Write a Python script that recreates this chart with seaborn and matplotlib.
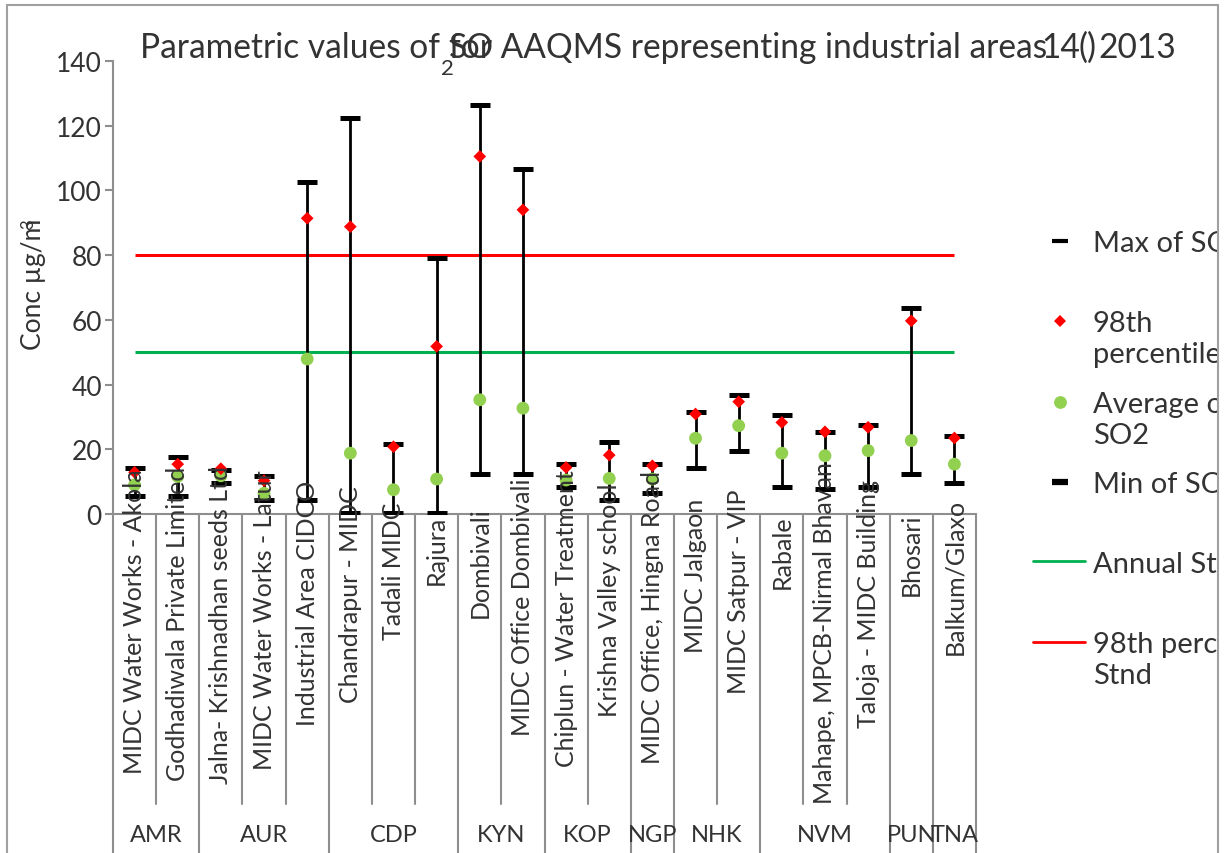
import matplotlib
matplotlib.use("Agg")
import numpy as np
import pandas as pd
import matplotlib.pyplot as plt
import seaborn as sns
from matplotlib.lines import Line2D
from matplotlib.transforms import Bbox, blended_transform_factory

# ---------------- data ----------------
stations = [
    "MIDC Water Works - Akola",
    "Godhadiwala Private Limited",
    "Jalna- Krishnadhan seeds Ltd",
    "MIDC Water Works - Latur",
    "Industrial Area CIDCO",
    "Chandrapur - MIDC",
    "Tadali MIDC",
    "Rajura",
    "Dombivali",
    "MIDC Office Dombivali",
    "Chiplun - Water Treatment",
    "Krishna Valley school",
    "MIDC Office, Hingna Road",
    "MIDC Jalgaon",
    "MIDC Satpur - VIP",
    "Rabale",
    "Mahape, MPCB-Nirmal Bhavan",
    "Taloja - MIDC Building",
    "Bhosari",
    "Balkum/Glaxo",
]
regions = ["AMR", "AMR", "AUR", "AUR", "AUR", "CDP", "CDP", "CDP", "KYN", "KYN",
           "KOP", "KOP", "NGP", "NHK", "NHK", "NVM", "NVM", "NVM", "PUN", "TNA"]
so2_max = [14.1, 17.5, 13.6, 11.6, 102.5, 122.3, 21.5, 79.0, 126.4, 106.5,
           15.4, 22.2, 15.4, 31.4, 36.8, 30.6, 25.2, 27.5, 63.6, 24.0]
so2_p98 = [12.9, 15.4, 14.0, 10.3, 91.4, 88.8, 20.8, 51.8, 110.5, 94.0,
           14.4, 18.2, 14.9, 30.9, 34.7, 28.3, 25.4, 26.8, 59.7, 23.5]
so2_avg = [9.0, 11.6, 11.8, 6.4, 47.9, 18.8, 7.5, 10.8, 35.3, 32.7,
           10.5, 11.0, 10.8, 23.4, 27.3, 18.8, 18.0, 19.6, 22.7, 15.4]
so2_min = [5.5, 5.5, 9.5, 4.3, 4.3, 0.2, 0.2, 0.2, 12.3, 12.3,
           8.4, 4.3, 6.5, 14.2, 19.4, 8.2, 7.7, 8.2, 12.3, 9.5]
annual_std = 50
p98_std = 80
y_ticks = [0, 20, 40, 60, 80, 100, 120, 140]
legend_rows = [
    ["Max of SO2"],
    ["98th", "percentile of SO2"],
    ["Average of", "SO2"],
    ["Min of SO2"],
    ["Annual Stnd"],
    ["98th percentile", "Stnd"],
]

# ---------------- style ----------------
W, H = 1227, 854
TXT = "#333333"
GRID = "#8e8e8e"
RED = "#FF0000"
GREEN_PT = "#92D050"
GREEN_LN = "#00B050"

sns.set_theme(style="white")
plt.rcParams["font.family"] = ["Lato", "DejaVu Sans"]
plt.rcParams["font.weight"] = "normal"
plt.rcParams["text.color"] = TXT


def fx(px):
    return px / W


def fy(py):
    return 1 - py / H


fig = plt.figure(figsize=(W / 100, H / 100), dpi=100)
ax = fig.add_axes([fx(113), fy(515), (976 - 113) / W, (515 - 62) / H])

n = len(stations)
df = pd.DataFrame({
    "station": stations,
    "region": regions,
    "pos": np.arange(n),
    "max": so2_max,
    "p98": so2_p98,
    "avg": so2_avg,
    "min": so2_min,
})

# standards
ax.hlines(annual_std, 0, n - 1, color=GREEN_LN, lw=2.2, zorder=1)
ax.hlines(p98_std, 0, n - 1, color=RED, lw=2.2, zorder=1)

# min-max ranges with caps
ax.vlines(df["pos"], df["min"], df["max"], color="black", lw=2.0, zorder=2)
ax.scatter(df["pos"], df["max"], marker="_", s=14.5 ** 2, linewidths=3.6,
           color="black", zorder=3)
ax.scatter(df["pos"], df["min"], marker="_", s=14.5 ** 2, linewidths=3.6,
           color="black", zorder=3)

# average and 98th percentile points
sns.scatterplot(data=df, x="pos", y="avg", color=GREEN_PT, s=85,
                edgecolor="none", ax=ax, zorder=4, legend=False)
sns.scatterplot(data=df, x="pos", y="p98", marker="D", color=RED, s=42,
                edgecolor="none", ax=ax, zorder=5, legend=False)

ax.set_xlim(-0.5, n - 0.5)
ax.set_ylim(0, 140)
ax.set_xlabel("")
ax.set_ylabel("")
ax.set_xticks([])
ax.set_yticks(y_ticks)
ax.tick_params(axis="y", direction="out", length=6, width=1.5, color=GRID,
               labelsize=19, pad=2, labelcolor=TXT, left=True)
for side in ["top", "right"]:
    ax.spines[side].set_visible(False)
for side in ["left", "bottom"]:
    ax.spines[side].set_color(GRID)
    ax.spines[side].set_linewidth(1.5)
ax.patch.set_alpha(0)

trans = blended_transform_factory(ax.transData, fig.transFigure)

# category separators below the axis
for k in range(n + 1):
    is_group = k == 0 or k == n or regions[k] != regions[k - 1]
    y_end = 854 if is_group else 805
    fig.add_artist(Line2D([k - 0.5, k - 0.5], [fy(515), fy(y_end)],
                          transform=trans, color=GRID, lw=1.5, zorder=0))

# region labels
start = 0
for k in range(1, n + 1):
    if k == n or regions[k] != regions[k - 1]:
        fig.text((start + k - 1) / 2, fy(836), regions[start], transform=trans,
                 ha="center", va="center", fontsize=17, color=TXT)
        start = k

# station labels, rotated
cat_labels = []
for i, s in enumerate(stations):
    t = fig.text(i, fy(530), s, transform=trans, rotation=90, ha="center",
                 va="top", fontsize=18, color=TXT, zorder=6)
    cat_labels.append(t)

# title pieces
title_fs = 21
t_a = fig.text(fx(140), fy(58), "Parametric values of", fontsize=title_fs,
               va="baseline", ha="left")
t_mid = fig.text(fx(449), fy(58), "for AAQMS representing industrial areas",
                 fontsize=title_fs, va="baseline", ha="left")
t_so = fig.text(fx(449), fy(58), "SO", fontsize=title_fs, va="baseline", ha="left")
t_sub = fig.text(fx(441), fy(75), "2", fontsize=title_fs * 0.66, va="baseline", ha="left")
t_14 = fig.text(fx(1041), fy(58), "14", fontsize=title_fs, va="baseline", ha="left")
t_par = fig.text(fx(1078), fy(58), "()", fontsize=title_fs, va="baseline", ha="left")
t_yr = fig.text(fx(1098), fy(58), "2013", fontsize=title_fs, va="baseline", ha="left")

# y label
fig.text(fx(33), fy(284), "Conc µg/m", rotation=90, ha="center", va="center",
         fontsize=19, color=TXT)
fig.text(fx(28), fy(224), "3", rotation=90, ha="center", va="center",
         fontsize=12, color=TXT)

# legend
clip = Bbox.from_extents(0, 0, 1217, H)
mx = fx(1060)
fig.add_artist(Line2D([mx], [fy(242)], transform=fig.transFigure, marker="_",
                      ms=11, mew=3, color="black"))
fig.add_artist(Line2D([mx], [fy(322)], transform=fig.transFigure, marker="D",
                      ms=6.5, mew=0, color=RED))
fig.add_artist(Line2D([mx], [fy(403)], transform=fig.transFigure, marker="o",
                      ms=9.2, mew=0, color=GREEN_PT))
fig.add_artist(Line2D([mx], [fy(483)], transform=fig.transFigure, marker="_",
                      ms=11, mew=4.5, color="black"))
fig.add_artist(Line2D([fx(1033), fx(1085)], [fy(562), fy(562)],
                      transform=fig.transFigure, lw=2, color=GREEN_LN))
fig.add_artist(Line2D([fx(1033), fx(1085)], [fy(643), fy(643)],
                      transform=fig.transFigure, lw=2, color=RED))
row_y = [242, 322, 403, 483, 563, 643]
for y0, lines in zip(row_y, legend_rows):
    for j, line in enumerate(lines):
        t = fig.text(fx(1093), fy(y0 + 10 + 31 * j), line, fontsize=21,
                     va="baseline", ha="left", color=TXT)
        t.set_clip_box(clip)
        t.set_clip_on(True)

# outer frame
frame_kw = dict(transform=fig.transFigure, color="#a0a0a0", lw=1.5)
fig.add_artist(Line2D([fx(7), fx(7)], [fy(6), 0], **frame_kw))
fig.add_artist(Line2D([fx(7), fx(1218)], [fy(6), fy(6)], **frame_kw))
fig.add_artist(Line2D([fx(1218), fx(1218)], [fy(6), 0], **frame_kw))

# layout pass: fit the title width and place station labels
fig.canvas.draw()
r = fig.canvas.get_renderer()
w_mid = t_mid.get_window_extent(r).width
scale = (1047 - 449) / w_mid
title_fs *= scale
for t in [t_a, t_mid, t_so, t_14, t_par, t_yr]:
    t.set_fontsize(title_fs)
t_sub.set_fontsize(title_fs * 0.66)
for t in cat_labels:
    L = t.get_window_extent(r).height
    t.set_y(fy(530 - 0.2 * L))

fig.savefig("out.png", dpi=100)
